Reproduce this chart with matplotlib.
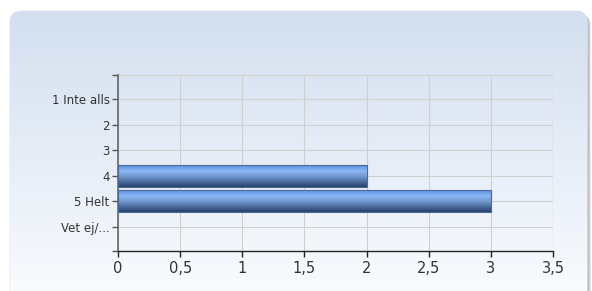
import numpy as np
import matplotlib
matplotlib.use("Agg")
import matplotlib.pyplot as plt
from matplotlib.patches import FancyBboxPatch
from matplotlib.colors import LinearSegmentedColormap

categories = ["1 Inte alls", "2", "3", "4", "5 Helt", "Vet ej/..."]
values = [0, 0, 0, 2, 3, 0]
xticks = [0, 0.5, 1, 1.5, 2, 2.5, 3, 3.5]
xticklabels = ["0", "0,5", "1", "1,5", "2", "2,5", "3", "3,5"]

W, H = 592, 291
fig = plt.figure(figsize=(W / 100, H / 100), dpi=100)
fig.patch.set_facecolor("white")

# background panel with gradient
bg = fig.add_axes([0, 0, 1, 1])
bg.set_xlim(0, W)
bg.set_ylim(H, 0)
bg.axis("off")
for off, a in [(4, 0.25), (3, 0.35), (2, 0.5)]:
    shadow = FancyBboxPatch((10 + off, 11 + off), 577, 300,
                            boxstyle="round,pad=0,rounding_size=11",
                            facecolor="#a8a8a8", edgecolor="none", alpha=a)
    bg.add_patch(shadow)
panel = FancyBboxPatch((10, 11), 577, 300, boxstyle="round,pad=0,rounding_size=11",
                       facecolor="white", edgecolor="#e6ebf2", linewidth=0.8)
bg.add_patch(panel)
grad = np.linspace(0, 1, 256).reshape(-1, 1)
bgcmap = LinearSegmentedColormap.from_list("bg", ["#d3dfef", "#e6edf7", "#fafcfe"])
im = bg.imshow(grad, extent=[10, 587, 300, 11], cmap=bgcmap, aspect="auto", zorder=2)
im.set_clip_path(panel)

# main axes
x0, x1 = 118, 553
y0, y1 = 75, 251
ax = fig.add_axes([x0 / W, 1 - y1 / H, (x1 - x0) / W, (y1 - y0) / H])
ax.patch.set_alpha(0)
ypos = np.arange(len(categories))

bar_h = 0.85
barcmap = LinearSegmentedColormap.from_list(
    "bar", [(0, "#5d92e4"), (0.28, "#8cb7f3"), (0.55, "#6c92c8"), (1.0, "#26426c")])
for y, v in zip(ypos, values):
    if v <= 0:
        continue
    rect = plt.Rectangle((0, y - bar_h / 2), v, bar_h, facecolor="none",
                         edgecolor="#4a6a95", linewidth=0.8, zorder=4)
    ax.add_patch(rect)
    g = np.linspace(0, 1, 64).reshape(-1, 1)
    bim = ax.imshow(g, extent=[0, v, y + bar_h / 2, y - bar_h / 2], cmap=barcmap,
                    aspect="auto", zorder=3)
    bim.set_clip_path(rect)
ax.set_xlim(0, 3.5)
ax.set_ylim(len(categories) - 0.05, -0.95)

ax.set_yticks(list(ypos) + [-0.95, len(categories) - 0.05])
ax.set_yticklabels(categories + ["", ""])
ax.set_xticks(xticks)
ax.set_xticklabels(xticklabels)

ax.grid(True, color="#d0d0d0", linewidth=0.8, zorder=0)
ax.set_axisbelow(True)
for s in ["top", "right"]:
    ax.spines[s].set_visible(False)
ax.spines["left"].set_color("#666666")
ax.spines["bottom"].set_color("#222222")
ax.spines["left"].set_linewidth(1.2)
ax.spines["bottom"].set_linewidth(1.0)
ax.tick_params(axis="y", length=4, width=1, color="#555555", labelsize=8.5,
               labelcolor="#333333", pad=2)
ax.tick_params(axis="x", length=4, width=1, color="#222222", labelsize=10.5,
               labelcolor="#333333", pad=3)
ax.axhline(-0.95, color="#d0d0d0", linewidth=0.8, zorder=0)
ax.axvline(3.5, color="#d0d0d0", linewidth=0.8, zorder=0)

fig.savefig("out.png", dpi=100)
